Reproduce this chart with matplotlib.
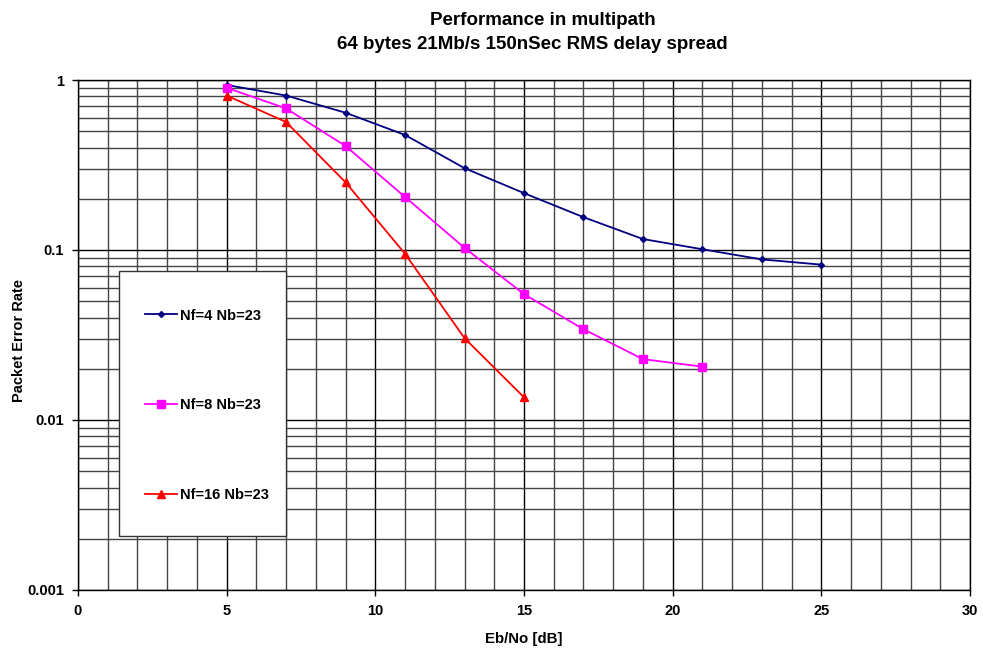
import matplotlib
matplotlib.use("Agg")
import matplotlib.pyplot as plt
from matplotlib.ticker import MultipleLocator, LogLocator, FuncFormatter, NullFormatter
from matplotlib.patches import Rectangle

plt.rcParams['font.family'] = ['Liberation Sans', 'DejaVu Sans']
plt.rcParams['font.weight'] = 'bold'

# Eb/No points (dB) and packet error rate for each filter setting
ebno_nf4 = [5, 7, 9, 11, 13, 15, 17, 19, 21, 23, 25]
per_nf4 = [0.935, 0.81, 0.642, 0.475, 0.303, 0.216, 0.156, 0.116, 0.101, 0.088, 0.082]

ebno_nf8 = [5, 7, 9, 11, 13, 15, 17, 19, 21]
per_nf8 = [0.90, 0.68, 0.409, 0.205, 0.103, 0.055, 0.0342, 0.0228, 0.0206]

ebno_nf16 = [5, 7, 9, 11, 13, 15]
per_nf16 = [0.81, 0.566, 0.25, 0.095, 0.0303, 0.0136]

labels = ["Nf=4 Nb=23", "Nf=8 Nb=23", "Nf=16 Nb=23"]

fig = plt.figure(figsize=(9.83, 6.52), dpi=100)
ax = fig.add_axes([0.0793, 0.0951, 0.9075, 0.7822])

ax.plot(ebno_nf4, per_nf4, color='#000080', lw=1.3, marker='D', ms=3,
        label=labels[0], zorder=4)
ax.plot(ebno_nf8, per_nf8, color='#ff00ff', lw=1.3, marker='s', ms=6,
        label=labels[1], zorder=4)
ax.plot(ebno_nf16, per_nf16, color='#ff0000', lw=1.3, marker='^', ms=6,
        label=labels[2], zorder=4)

ax.set_yscale('log')
ax.set_xlim(0, 30)
ax.set_ylim(0.001, 1)

ax.xaxis.set_major_locator(MultipleLocator(5))
ax.xaxis.set_minor_locator(MultipleLocator(1))
ax.yaxis.set_major_locator(LogLocator(base=10))
ax.yaxis.set_minor_locator(LogLocator(base=10, subs=range(2, 10)))
ax.yaxis.set_major_formatter(FuncFormatter(lambda v, _: f'{v:g}'))
ax.yaxis.set_minor_formatter(NullFormatter())

ax.grid(which='major', color='#000000', lw=1.0)
ax.grid(which='minor', color='#444444', lw=1.0)
ax.set_axisbelow(True)

ax.tick_params(which='major', direction='out', length=4, width=1, labelsize=10.5, pad=6)
ax.tick_params(which='minor', length=0)
for s in ax.spines.values():
    s.set_color('black')
    s.set_linewidth(1)

ax.set_xlabel('Eb/No [dB]', fontsize=10.8, fontweight='bold', labelpad=10)
ax.set_ylabel('Packet Error Rate', fontsize=10.5, fontweight='bold')
ax.yaxis.set_label_coords(-0.058, 0.49)

fig.text(0.552, 0.982, 'Performance in multipath', ha='center', va='top',
         fontsize=13.5, fontweight='bold')
fig.text(0.542, 0.945, '64 bytes 21Mb/s 150nSec RMS delay spread', ha='center',
         va='top', fontsize=13.5, fontweight='bold')

# legend box with widely spaced entries
box = Rectangle((0.046, 0.106), 0.187, 0.519, transform=ax.transAxes,
                facecolor='white', edgecolor='#333333', lw=1, zorder=5)
ax.add_patch(box)
leg = ax.legend(loc='center left', bbox_to_anchor=(0.0665, 0.362), frameon=False,
                fontsize=10.5, labelspacing=5.2, handlelength=2.2,
                handletextpad=0.25, borderpad=0)
leg.set_zorder(6)

fig.savefig('out.png', dpi=100)
